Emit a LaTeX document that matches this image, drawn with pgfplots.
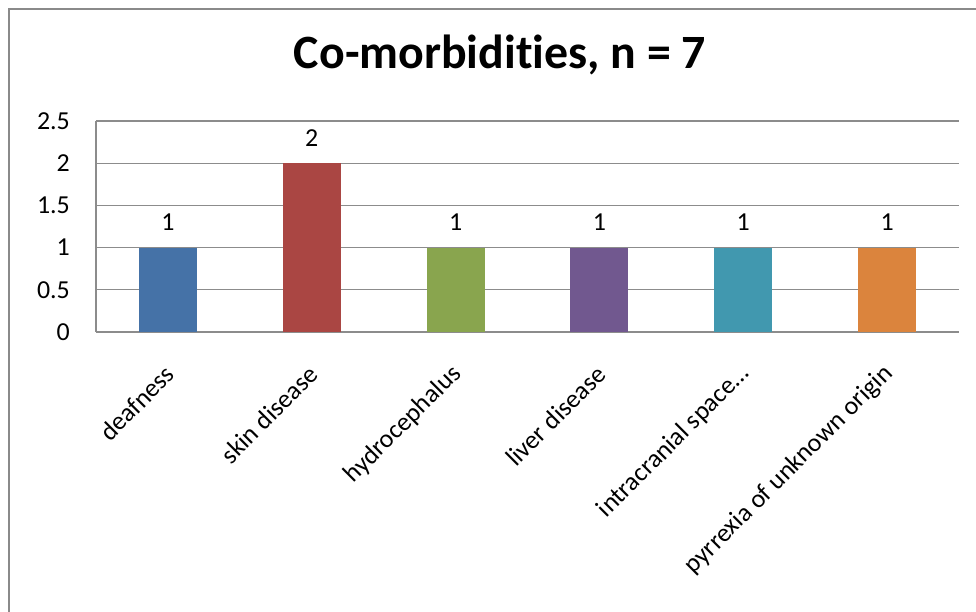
\documentclass[border=0pt]{standalone}
\usepackage{fontspec}
\setmainfont{Carlito}[Ligatures=NoCommon]
\usepackage{pgfplots}
\pgfplotsset{compat=1.18}

\definecolor{cblue}{HTML}{4572A7}
\definecolor{cred}{HTML}{AA4643}
\definecolor{cgreen}{HTML}{89A54E}
\definecolor{cpurple}{HTML}{71588F}
\definecolor{cteal}{HTML}{4198AF}
\definecolor{corange}{HTML}{DB843D}
\definecolor{gridgray}{HTML}{8C8C8C}
\definecolor{framegray}{HTML}{8A8A8A}

\newcommand{\lab}{\fontsize{26}{31}\selectfont}

\begin{document}
\begin{tikzpicture}[x=1bp,y=1bp]
\path[use as bounding box] (0,0) rectangle (976,612);

% chart frame (right and bottom edges run off the page)
\draw[framegray, line width=2.4bp] (9,-20) -- (9,603) -- (1000,603);

\node[anchor=base, font=\bfseries\fontsize{48}{56}\selectfont] at (500,543) {Co-morbidities, n = 7};

\begin{axis}[
  at={(96bp,280bp)}, anchor=south west,
  scale only axis,
  width=863bp, height=211bp,
  xmin=-0.5, xmax=5.5,
  ymin=0, ymax=2.5,
  ytick={0,0.5,1,1.5,2,2.5},
  yticklabels={0,0.5,1,1.5,2,2.5},
  xtick={0,1,2,3,4,5},
  xticklabels={deafness, skin disease, hydrocephalus, liver disease, intracranial space\ldots, pyrrexia of unknown origin},
  /pgf/number format/assume math mode=true,
  axis lines=left,
  axis line style={-, gridgray, line width=1.1bp},
  ymajorgrids,
  major grid style={gridgray, line width=1.1bp},
  major tick length=0pt,
  tick style={draw=none},
  yticklabel style={font=\lab, anchor=east, inner sep=0pt, xshift=-26bp},
  xticklabel style={font=\lab, inner sep=0pt, xshift=2bp, yshift=-38bp, rotate=45, anchor=east},
  clip=false,
  ybar, bar width=58bp, bar shift=0pt,
  nodes near coords,
  every node near coord/.append style={font=\lab, anchor=center, yshift=25bp, inner sep=0pt, black},
]
\addplot[fill=cblue, draw=none] coordinates {(0,1)};
\addplot[fill=cred, draw=none] coordinates {(1,2)};
\addplot[fill=cgreen, draw=none] coordinates {(2,1)};
\addplot[fill=cpurple, draw=none] coordinates {(3,1)};
\addplot[fill=cteal, draw=none] coordinates {(4,1)};
\addplot[fill=corange, draw=none] coordinates {(5,1)};
\end{axis}
\end{tikzpicture}
\end{document}
